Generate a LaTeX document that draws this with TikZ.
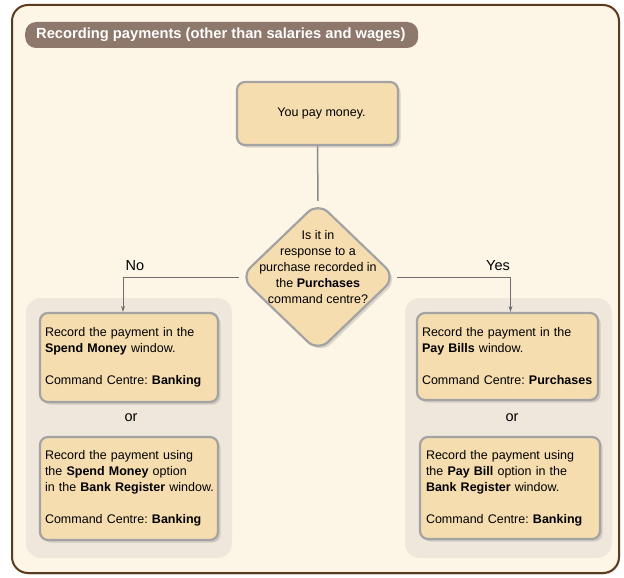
\documentclass[tikz,border=0pt]{standalone}
\usepackage{fontspec}
\setmainfont{Liberation Sans}
\frenchspacing
\hyphenpenalty=10000
\exhyphenpenalty=10000
\usetikzlibrary{shapes.geometric,shadows,arrows.meta}
\definecolor{pagebg}{HTML}{FDF5E6}
\definecolor{framebrown}{HTML}{5C3A1E}
\definecolor{titlebg}{HTML}{8E776B}
\definecolor{panelbg}{HTML}{EFE7DC}
\definecolor{boxfill}{HTML}{F5DDB0}
\definecolor{boxline}{HTML}{A3A3A3}
\definecolor{linkgray}{HTML}{6E6E6E}
\tikzset{
  bodyfont/.style={font={\fontsize{12.5}{16}\selectfont\hyphenpenalty=10000\relax}},
  softshadow/.style={drop shadow={opacity=0.28, shadow xshift=2.5pt, shadow yshift=-2.5pt}},
  stepbox/.style={bodyfont, draw=boxline, line width=2.2pt, fill=boxfill,
    rounded corners=8pt, softshadow, inner sep=0pt},
  actionbox/.style={stepbox, align=left, text width=#1, inner xsep=5pt},
  decision/.style={diamond, draw=boxline, line width=2.2pt, fill=boxfill,
    rounded corners=14pt, softshadow, inner sep=0pt},
  panel/.style={fill=panelbg, rounded corners=15pt},
  link/.style={draw=linkgray, line width=0.8pt, -{Stealth[length=6pt,width=4pt]}},
  branch/.style={font={\fontsize{14.5}{16}\selectfont}}
}
\begin{document}
\begin{tikzpicture}[x=1pt, y=-1pt]
  \useasboundingbox (0,0) rectangle (624,578);
  \fill[white] (0,0) rectangle (624,578);
  % outer frame
  \draw[framebrown, line width=2pt, fill=pagebg, rounded corners=16pt,
        drop shadow={opacity=0.3, shadow xshift=1pt, shadow yshift=-1.5pt}]
        (12,5) rectangle (619,573);
  % title bar
  \node[fill=titlebg, rounded corners=11pt, minimum width=393pt, minimum height=26pt,
        inner sep=0pt, anchor=west] (title) at (25,35) {};
  \node[anchor=west, text=white, font={\fontsize{14.7}{16}\selectfont\bfseries}, inner sep=0pt] (titletext)
        at (36,35) {Recording payments (other than salaries and wages)};
  % side panels
  \fill[panel] (26,298) rectangle (232,558);
  \fill[panel] (405,298) rectangle (612,558);
  % start
  \node[stepbox, minimum width=161pt, minimum height=63pt] (start) at (317.5,113.5)
        {\hspace{8pt}You pay money.};
  % decision
  \node[decision, minimum width=156pt, minimum height=150pt] (q) at (318,277) {};
  \node[bodyfont, align=center] (qtext) at (318,267)
        {Is it in\\response to a\\purchase recorded in\\the \textbf{Purchases}\\command centre?};
  \draw[draw=boxline!85!black, line width=1.5pt] (start.south) -- (q.north);
  % options when not a recorded purchase
  \node[actionbox=168pt, minimum height=89pt] (lb1) at (129,357.5)
        {Record the payment in the\\\textbf{Spend Money} window.\\[16pt]Command Centre: \textbf{Banking}};
  \node[branch] (lor) at (131,418) {or};
  \node[actionbox=174pt, inner xsep=2pt, minimum height=103pt] (lb2) at (129,488.5)
        {\hspace*{3pt}Record the payment using\\\hspace*{3pt}the \textbf{Spend Money} option\\\hspace*{3pt}in the \textbf{Bank Register} window.\\[16pt]\hspace*{3pt}Command Centre: \textbf{Banking}};
  % options when a recorded purchase
  \node[actionbox=171pt, minimum height=87pt] (rb1) at (507.5,356.5)
        {Record the payment in the\\\textbf{Pay Bills} window.\\[16pt]Command Centre: \textbf{Purchases}};
  \node[branch] (ror) at (512,418) {or};
  \node[actionbox=168pt, minimum height=102pt, inner xsep=6pt] (rb2) at (510,488)
        {Record the payment using\\the \textbf{Pay Bill} option in the\\\textbf{Bank Register} window.\\[16pt]Command Centre: \textbf{Banking}};
  % branches
  \draw[link] (q.west) -| ([xshift=-6pt]lb1.north);
  \draw[link] (q.east) -| ([xshift=3pt]rb1.north);
  \node[branch] (no) at (135,266) {No};
  \node[branch] (yes) at (498,266) {Yes};
\end{tikzpicture}
\end{document}
